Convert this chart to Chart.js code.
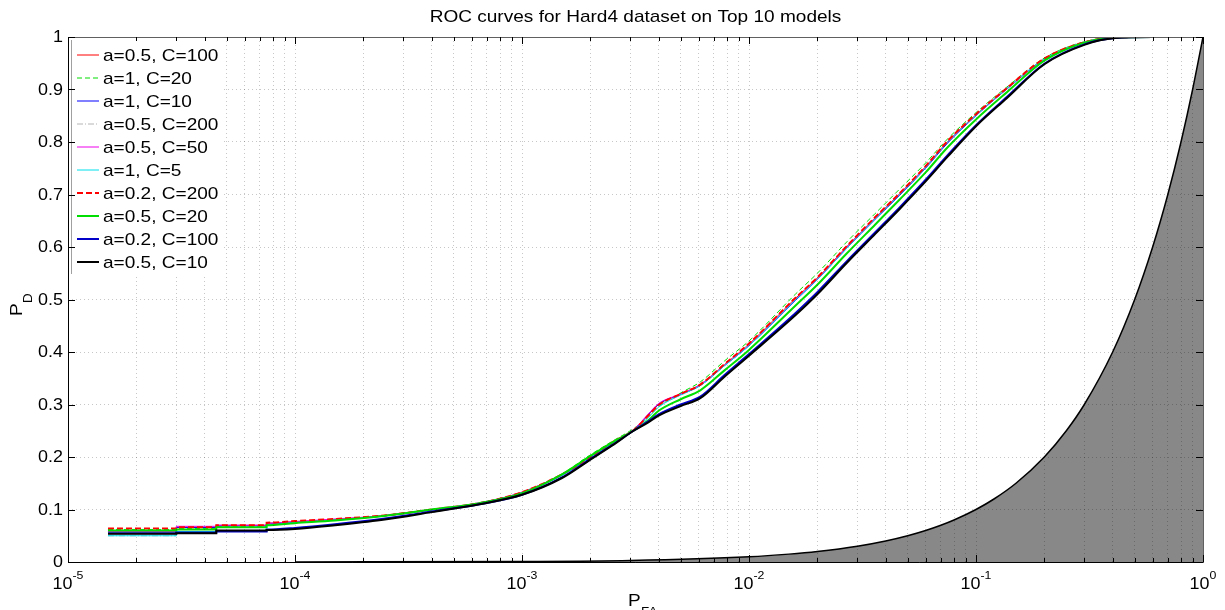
<!DOCTYPE html>
<html>
<head>
<meta charset="utf-8">
<script src="https://cdn.jsdelivr.net/npm/chart.js@4"></script>
<style>
  body { margin: 0; background: #fff; }
</style>
</head>
<body>
<canvas id="roc" width="1225" height="610"></canvas>
<script>
// false alarm rates shared by all curves
const pfa = [1.5e-5, 3e-5, 3e-5, 4.5e-5, 4.5e-5, 7.5e-5, 7.5e-5, 1e-4, 1.5e-4, 2.4e-4, 4e-4, 6.5e-4,
  1e-3, 1.5e-3, 2e-3, 2.5e-3, 3.1e-3, 3.6e-3, 4e-3, 5e-3, 6.1e-3, 7.8e-3, 1e-2, 1.6e-2, 2e-2, 2.7e-2,
  3.6e-2, 4.6e-2, 6e-2, 7.5e-2, 0.1, 0.137, 0.2, 0.3, 0.41, 0.6, 1];

const pdA05C100 = [0.060, 0.060, 0.066, 0.066, 0.070, 0.070, 0.074, 0.077, 0.081, 0.088, 0.100, 0.112, 0.133, 0.167, 0.201, 0.228, 0.252, 0.280, 0.300, 0.320, 0.338, 0.376, 0.415, 0.502, 0.541, 0.601, 0.656, 0.701, 0.753, 0.801, 0.852, 0.902, 0.958, 0.990, 0.999, 1, 1];
const pdA1C20 = [0.062, 0.062, 0.064, 0.064, 0.068, 0.068, 0.072, 0.076, 0.080, 0.088, 0.100, 0.111, 0.131, 0.168, 0.204, 0.230, 0.254, 0.276, 0.296, 0.322, 0.343, 0.383, 0.421, 0.510, 0.550, 0.610, 0.664, 0.710, 0.760, 0.806, 0.856, 0.905, 0.960, 0.991, 0.999, 1, 1];
const pdA1C10 = [0.058, 0.058, 0.066, 0.066, 0.069, 0.069, 0.072, 0.076, 0.080, 0.087, 0.099, 0.112, 0.132, 0.165, 0.198, 0.226, 0.250, 0.281, 0.301, 0.319, 0.336, 0.374, 0.412, 0.498, 0.538, 0.598, 0.653, 0.698, 0.750, 0.798, 0.850, 0.901, 0.957, 0.990, 0.999, 1, 1];
const pdA05C200 = [0.050, 0.050, 0.062, 0.062, 0.066, 0.066, 0.071, 0.075, 0.080, 0.087, 0.099, 0.111, 0.131, 0.166, 0.200, 0.227, 0.250, 0.277, 0.297, 0.318, 0.337, 0.375, 0.414, 0.500, 0.540, 0.600, 0.655, 0.700, 0.752, 0.800, 0.851, 0.902, 0.958, 0.990, 0.999, 1, 1];
const pdA05C50 = [0.058, 0.058, 0.068, 0.068, 0.070, 0.070, 0.074, 0.077, 0.082, 0.088, 0.100, 0.113, 0.133, 0.167, 0.200, 0.228, 0.252, 0.282, 0.302, 0.320, 0.338, 0.375, 0.413, 0.500, 0.539, 0.600, 0.655, 0.700, 0.752, 0.800, 0.851, 0.902, 0.958, 0.990, 0.999, 1, 1];
const pdA1C5 = [0.050, 0.050, 0.058, 0.058, 0.066, 0.066, 0.071, 0.075, 0.080, 0.087, 0.100, 0.112, 0.132, 0.165, 0.200, 0.226, 0.250, 0.275, 0.295, 0.318, 0.336, 0.374, 0.412, 0.499, 0.538, 0.598, 0.654, 0.699, 0.751, 0.800, 0.851, 0.902, 0.958, 0.990, 0.999, 1, 1];
const pdA02C200 = [0.064, 0.064, 0.066, 0.066, 0.070, 0.070, 0.075, 0.078, 0.082, 0.088, 0.100, 0.112, 0.133, 0.167, 0.200, 0.228, 0.251, 0.279, 0.299, 0.320, 0.338, 0.377, 0.416, 0.503, 0.542, 0.602, 0.657, 0.702, 0.754, 0.802, 0.853, 0.903, 0.959, 0.990, 0.999, 1, 1];
const pdA05C20 = [0.060, 0.060, 0.062, 0.062, 0.066, 0.066, 0.070, 0.074, 0.079, 0.087, 0.100, 0.112, 0.131, 0.167, 0.202, 0.228, 0.250, 0.270, 0.288, 0.310, 0.327, 0.365, 0.404, 0.488, 0.528, 0.588, 0.643, 0.690, 0.742, 0.790, 0.843, 0.895, 0.955, 0.989, 0.999, 1, 1];
const pdA02C100 = [0.055, 0.055, 0.056, 0.056, 0.058, 0.058, 0.062, 0.065, 0.072, 0.082, 0.096, 0.110, 0.128, 0.161, 0.196, 0.223, 0.250, 0.268, 0.281, 0.300, 0.315, 0.356, 0.396, 0.474, 0.514, 0.573, 0.628, 0.675, 0.728, 0.775, 0.832, 0.886, 0.949, 0.986, 0.998, 1, 1];
const pdA05C10 = [0.054, 0.054, 0.055, 0.055, 0.060, 0.060, 0.061, 0.063, 0.070, 0.080, 0.095, 0.110, 0.128, 0.160, 0.195, 0.222, 0.250, 0.266, 0.279, 0.297, 0.312, 0.353, 0.393, 0.470, 0.510, 0.570, 0.625, 0.672, 0.725, 0.772, 0.830, 0.884, 0.948, 0.985, 0.998, 1, 1];

// chance diagonal (PD = PFA), shaded underneath
const chancePfa = [1e-4, 1e-3, 3e-3, 0.01, 0.015, 0.02, 0.03, 0.04, 0.05, 0.06, 0.07, 0.08, 0.1, 0.12, 0.15,
  0.2, 0.25, 0.3, 0.4, 0.5, 0.6, 0.7, 0.8, 0.9, 1];
const chancePd = [1e-4, 1e-3, 3e-3, 0.01, 0.015, 0.02, 0.03, 0.04, 0.05, 0.06, 0.07, 0.08, 0.1, 0.12, 0.15,
  0.2, 0.25, 0.3, 0.4, 0.5, 0.6, 0.7, 0.8, 0.9, 1];

const seriesNames = ['a=0.5, C=100', 'a=1, C=20', 'a=1, C=10', 'a=0.5, C=200', 'a=0.5, C=50',
  'a=1, C=5', 'a=0.2, C=200', 'a=0.5, C=20', 'a=0.2, C=100', 'a=0.5, C=10'];
const seriesValues = [pdA05C100, pdA1C20, pdA1C10, pdA05C200, pdA05C50, pdA1C5, pdA02C200, pdA05C20, pdA02C100, pdA05C10];
const seriesColors = ['#ff0000', '#00dd00', '#0000ff', '#b4b4b4', '#ee00ee', '#00e0ee', '#ff0000', '#00dd00', '#0000c8', '#000000'];
const seriesWidths = [1, 1, 1, 1, 1, 1, 2, 2, 2, 2];
const seriesDashes = [[], [5, 3], [], [6, 2, 1, 2], [], [], [6, 3], [], [], []];

const yTicks = [0, 0.1, 0.2, 0.3, 0.4, 0.5, 0.6, 0.7, 0.8, 0.9, 1];
const yTickLabels = ['0', '0.1', '0.2', '0.3', '0.4', '0.5', '0.6', '0.7', '0.8', '0.9', '1'];
const xDecades = [1e-5, 1e-4, 1e-3, 1e-2, 1e-1, 1];
const xDecadeExps = ['-5', '-4', '-3', '-2', '-1', '0'];

const FONT = '"Liberation Sans", Arial, sans-serif';
const SX = 1.12; // reference text is a bit stretched horizontally

function txt(ctx, s, x, y, size, align, base) {
  ctx.save();
  ctx.font = size + 'px ' + FONT;
  ctx.translate(x, y);
  ctx.scale(SX, 1);
  ctx.textAlign = align || 'left';
  ctx.textBaseline = base || 'alphabetic';
  ctx.fillStyle = '#000';
  ctx.fillText(s, 0, 0);
  ctx.restore();
}
function tw(ctx, s, size) {
  ctx.save();
  ctx.font = size + 'px ' + FONT;
  const w = ctx.measureText(s).width * SX;
  ctx.restore();
  return w;
}

// minor grid at k*10^e
const xGrid = [];
for (let e = -5; e < 0; e++) {
  for (let k = 1; k < 10; k++) xGrid.push(k * Math.pow(10, e));
}
xGrid.push(1);

const datasets = seriesNames.map((name, i) => ({
  label: name,
  data: pfa.map((x, j) => ({ x: x, y: seriesValues[i][j] })),
  borderColor: seriesColors[i],
  borderWidth: seriesWidths[i],
  borderDash: seriesDashes[i],
  pointRadius: 0,
  fill: false,
  cubicInterpolationMode: 'monotone',
  order: 10 - i
}));
datasets.push({
  label: 'chance',
  data: chancePfa.map((x, j) => ({ x: x, y: chancePd[j] })),
  borderColor: '#000',
  borderWidth: 1.5,
  backgroundColor: '#888888',
  pointRadius: 0,
  fill: 'origin',
  cubicInterpolationMode: 'monotone',
  order: 20
});

const axesDecor = {
  id: 'axesDecor',
  afterDraw(chart) {
    const ctx = chart.ctx;
    const a = chart.chartArea;
    const xs = chart.scales.x, ys = chart.scales.y;

    // legend box inside the axes
    const lx = 71, ly = 38, lw = 153, lh = 236;
    ctx.save();
    ctx.fillStyle = '#fff';
    ctx.fillRect(lx, ly, lw, lh);
    ctx.strokeStyle = '#a0a0a0';
    ctx.lineWidth = 1;
    ctx.beginPath();
    ctx.moveTo(lx + 0.5, ly + 2);
    ctx.lineTo(lx + 0.5, ly + lh);
    ctx.stroke();
    seriesNames.forEach((name, i) => {
      const cy = 55 + i * 23;
      ctx.strokeStyle = seriesColors[i];
      ctx.lineWidth = seriesWidths[i];
      ctx.setLineDash(seriesDashes[i]);
      ctx.beginPath();
      ctx.moveTo(77, cy);
      ctx.lineTo(99, cy);
      ctx.stroke();
      ctx.setLineDash([]);
      txt(ctx, name, 103, cy + 1, 17, 'left', 'middle');
    });
    ctx.restore();

    // axes box
    ctx.save();
    ctx.lineWidth = 1;
    ctx.strokeStyle = '#606060';
    ctx.strokeRect(a.left + 0.5, a.top + 0.5, a.right - a.left, a.bottom - a.top);
    ctx.strokeStyle = '#000';
    ctx.beginPath();
    ctx.moveTo(a.left + 0.5, a.top);
    ctx.lineTo(a.left + 0.5, a.bottom + 0.5);
    ctx.lineTo(a.right, a.bottom + 0.5);
    ctx.stroke();

    // inward ticks
    ctx.strokeStyle = '#000';
    ctx.beginPath();
    xGrid.forEach(v => {
      const px = Math.round(xs.getPixelForValue(v)) + 0.5;
      const len = xDecades.includes(v) ? 7 : 4;
      ctx.moveTo(px, a.bottom);
      ctx.lineTo(px, a.bottom - len);
      ctx.moveTo(px, a.top);
      ctx.lineTo(px, a.top + len);
    });
    yTicks.forEach(v => {
      const py = Math.round(ys.getPixelForValue(v)) + 0.5;
      ctx.moveTo(a.left, py);
      ctx.lineTo(a.left + 7, py);
      ctx.moveTo(a.right, py);
      ctx.lineTo(a.right - 7, py);
    });
    ctx.stroke();
    ctx.restore();

    // y tick labels
    yTicks.forEach((v, i) => {
      txt(ctx, yTickLabels[i], 63, ys.getPixelForValue(v) + 1, 16, 'right', 'middle');
    });
    // x tick labels 10^n
    xDecades.forEach((v, i) => {
      const px = xs.getPixelForValue(v);
      const w1 = tw(ctx, '10', 16), w2 = tw(ctx, xDecadeExps[i], 11);
      const x0 = px - (w1 + w2) / 2;
      txt(ctx, '10', x0, 589, 16, 'left');
      txt(ctx, xDecadeExps[i], x0 + w1, 579, 11, 'left');
    });

    // title and axis labels
    txt(ctx, 'ROC curves for Hard4 dataset on Top 10 models', (a.left + a.right) / 2, 22, 17, 'center');
    txt(ctx, 'P', 628, 606, 17, 'left');
    txt(ctx, 'FA', 641, 616, 12, 'left');
    ctx.save();
    ctx.translate(22, 316);
    ctx.rotate(-Math.PI / 2);
    txt(ctx, 'P', 0, 0, 17, 'left');
    txt(ctx, 'D', 13, 10, 12, 'left');
    ctx.restore();
  }
};

new Chart(document.getElementById('roc'), {
  type: 'line',
  data: { datasets: datasets },
  options: {
    responsive: false,
    animation: false,
    layout: { padding: { left: 68, right: 22, top: 37, bottom: 48 } },
    plugins: { legend: { display: false }, title: { display: false }, tooltip: { enabled: false } },
    scales: {
      x: {
        type: 'logarithmic',
        min: 1e-5,
        max: 1,
        afterBuildTicks: s => { s.ticks = xGrid.map(v => ({ value: v })); },
        afterFit: s => { s.height = 0; },
        ticks: { display: false },
        grid: { color: 'rgba(0,0,0,0.22)', lineWidth: 1, drawTicks: false, z: 1 },
        border: { display: false, dash: [1, 3] }
      },
      y: {
        type: 'linear',
        min: 0,
        max: 1,
        afterBuildTicks: s => { s.ticks = yTicks.map(v => ({ value: v })); },
        afterFit: s => { s.width = 0; },
        ticks: { display: false },
        grid: { color: 'rgba(0,0,0,0.22)', lineWidth: 1, drawTicks: false, z: 1 },
        border: { display: false, dash: [1, 3] }
      }
    }
  },
  plugins: [axesDecor]
});
</script>
</body>
</html>
